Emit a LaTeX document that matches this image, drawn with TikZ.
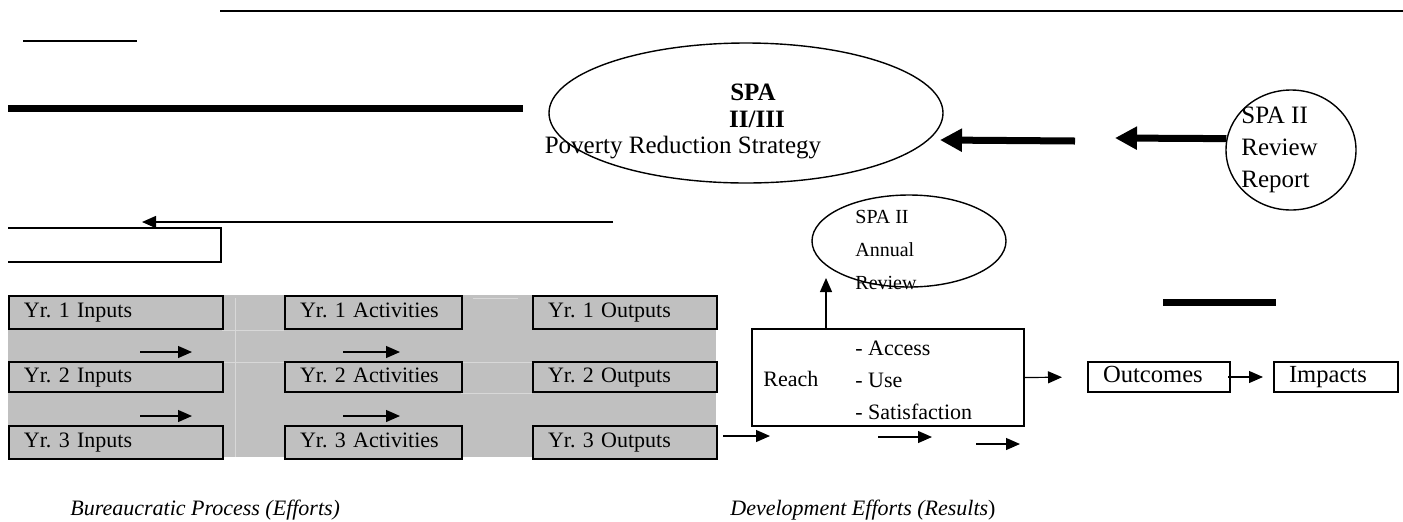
\documentclass[tikz,border=0pt]{standalone}
\usepackage{fontspec}
\setmainfont{Liberation Serif}
\usetikzlibrary{arrows.meta,shapes.geometric}
\definecolor{cellgrey}{HTML}{C0C0C0}
\definecolor{cellline}{HTML}{D8D8D8}
\frenchspacing
\begin{document}
\begin{tikzpicture}[x=0.5pt, y=-0.5pt,
	every node/.style={font=\fontsize{11}{13}\selectfont, inner sep=0pt},
	yrbox/.style={draw, line width=1pt, fill=cellgrey, anchor=north west, inner xsep=7.5pt, align=left, text height=7.5pt, text depth=2.5pt},
	plainbox/.style={draw, line width=1pt, anchor=north west},
	ring/.style={draw, ellipse, line width=0.7pt},
	smallarrow/.style={-{Triangle[length=7pt,width=6pt]}, line width=0.6pt},
	fatarrow/.style={-{Triangle[length=11pt,width=11pt]}, line width=3.5pt},
	bar/.style={line width=3.5pt}]
	\useasboundingbox (0,0) rectangle (1403,521);
	\draw[line width=1pt] (220,11) -- (1403,11);
	\draw[line width=1pt] (23,41) -- (137,41);
	\draw[bar] (8,108) -- (523,108);
	\draw[bar] (1163,302) -- (1276,302);
	\draw[line width=1pt] (8,228) -- (221,228) -- (221,262) -- (8,262);
	\node[ring, minimum width=197pt, minimum height=70pt] (prs) at (746,113) {};
	\node[font=\fontsize{12.5}{15}\selectfont\bfseries] (spa) at (753,92) {SPA};
	\node[font=\fontsize{12.5}{15}\selectfont\bfseries] (roman) at (757,119) {II/III};
	\node[font=\fontsize{12.5}{15}\selectfont] (prstext) at (683,148) {Poverty Reduction Strategy};
	\node[ring, minimum width=65pt, minimum height=60pt] (review) at (1291,150) {};
	\node[anchor=west, align=left, font=\fontsize{12.5}{16}\selectfont] (reviewtext) at (1241,150) {SPA II\\Review\\Report};
	\node[ring, minimum width=97pt, minimum height=46pt] (annual) at (909,241) {};
	\node[anchor=west, align=left, font=\fontsize{10}{16.5}\selectfont] (annualtext) at (855,250) {SPA II\\Annual\\Review};
	\coordinate (f1) at (1075,141);
	\coordinate (f2) at (940,140);
	\coordinate (f3) at (1115,138);
	\draw[fatarrow] (f1) -- (f2);
	\draw[fatarrow] (review.170) -- (f3);
	\coordinate (l1) at (613,222);
	\coordinate (l2) at (142,222);
	\draw[smallarrow, line width=0.7pt] (l1) -- (l2);
	\fill[cellgrey] (8,295) rectangle (716,457);
	\draw[cellline, line width=0.5pt] (235,298) -- (235,457);
	\draw[cellline, line width=0.5pt] (222,330) -- (284,330);
	\draw[cellline, line width=0.5pt] (222,362) -- (284,362);
	\draw[cellline, line width=0.5pt] (473,298) -- (518,298);
	\draw[cellline, line width=0.5pt] (461,362) -- (532,362);
	\draw[cellline, line width=0.5pt] (461,393) -- (532,393);
	\node[yrbox, minimum height=16.5pt, text width=92pt] (in1) at (8,295) {Yr. 1 Inputs};
	\node[yrbox, minimum height=15pt, text width=92pt] (in2) at (8,361) {Yr. 2 Inputs};
	\node[yrbox, minimum height=16.5pt, text width=92pt] (in3) at (8,425) {Yr. 3 Inputs};
	\node[yrbox, minimum height=16.5pt, text width=73.5pt] (act1) at (284,295) {Yr. 1 Activities};
	\node[yrbox, minimum height=15pt, text width=73.5pt] (act2) at (284,361) {Yr. 2 Activities};
	\node[yrbox, minimum height=16.5pt, text width=73.5pt] (act3) at (284,425) {Yr. 3 Activities};
	\node[yrbox, minimum height=16.5pt, text width=77pt] (out1) at (532,295) {Yr. 1 Outputs};
	\node[yrbox, minimum height=15pt, text width=77pt] (out2) at (532,361) {Yr. 2 Outputs};
	\node[yrbox, minimum height=16.5pt, text width=77pt] (out3) at (532,425) {Yr. 3 Outputs};
	\coordinate (ia1) at (140,352);
	\coordinate (ib1) at (192,352);
	\coordinate (ia2) at (140,416);
	\coordinate (ib2) at (192,416);
	\coordinate (aa1) at (343,352);
	\coordinate (ab1) at (400,352);
	\coordinate (aa2) at (343,416);
	\coordinate (ab2) at (400,416);
	\draw[smallarrow] (ia1) -- (ib1);
	\draw[smallarrow] (ia2) -- (ib2);
	\draw[smallarrow] (aa1) -- (ab1);
	\draw[smallarrow] (aa2) -- (ab2);
	\node[plainbox, minimum width=136pt, minimum height=48.5pt] (reach) at (751,328) {};
	\node[anchor=west] (reachlbl) at (763,379) {Reach};
	\node[anchor=west, align=left, font=\fontsize{11}{16}\selectfont] (reachlist) at (855,380) {- Access\\- Use\\- Satisfaction};
	\coordinate (uptip) at (826,278);
	\draw[smallarrow] (reach.north -| uptip) -- (uptip);
	\node[plainbox, minimum width=71pt, minimum height=15pt, inner xsep=7.5pt, text width=56pt, text height=8pt, text depth=2.5pt, align=left, font=\fontsize{12.3}{14}\selectfont] (outcomes) at (1087,361) {Outcomes};
	\node[plainbox, minimum width=62pt, minimum height=15pt, inner xsep=7.5pt, text width=47pt, text height=8pt, text depth=2.5pt, align=left, font=\fontsize{12.3}{14}\selectfont] (impacts) at (1273,361) {Impacts};
	\draw[smallarrow, shorten >=12.5pt] (reach.east) -- (outcomes.west);
	\draw[smallarrow, shorten <=-1.5pt, shorten >=5pt] (outcomes.east) -- (impacts.west);
	\coordinate (oa) at (723,436);
	\coordinate (ob) at (770,436);
	\coordinate (ra1) at (878,437);
	\coordinate (rb1) at (932,437);
	\coordinate (ra2) at (976,444);
	\coordinate (rb2) at (1020,444);
	\draw[smallarrow] (oa) -- (ob);
	\draw[smallarrow] (ra1) -- (rb1);
	\draw[smallarrow] (ra2) -- (rb2);
	\node[anchor=west, font=\fontsize{11}{13}\selectfont\itshape] (bureau) at (70,510) {Bureaucratic Process (Efforts)};
	\node[anchor=west, font=\fontsize{11}{13}\selectfont\itshape] (devel) at (730,510) {Development Efforts (Results\textup{)}};
\end{tikzpicture}
\end{document}
